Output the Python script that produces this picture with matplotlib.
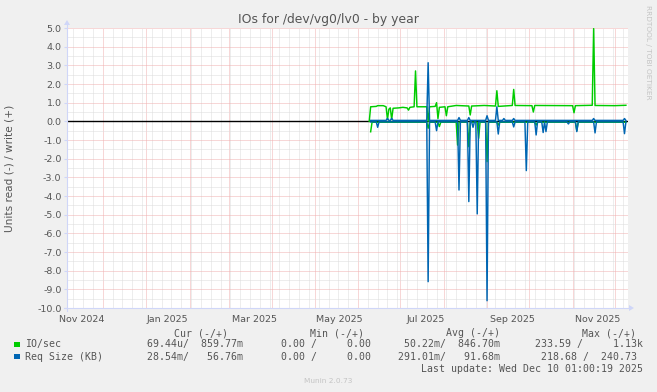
import numpy as np
import matplotlib
matplotlib.use("Agg")
import matplotlib.pyplot as plt
import matplotlib.dates as mdates
from matplotlib.lines import Line2D
from matplotlib.patches import Polygon
from matplotlib.ticker import MultipleLocator, FormatStrFormatter, NullFormatter
import matplotlib.transforms as mtransforms

# ---------------- data ----------------
# IO/sec, write (+)
io_write_dates = ["2025-06-09", "2025-06-10", "2025-06-14", "2025-06-15", "2025-06-19", "2025-06-21",
                  "2025-06-22", "2025-06-23", "2025-06-24", "2025-06-25", "2025-06-26", "2025-06-30",
                  "2025-07-03", "2025-07-06", "2025-07-07", "2025-07-08", "2025-07-11", "2025-07-12",
                  "2025-07-13", "2025-07-20", "2025-07-21", "2025-07-22", "2025-07-26", "2025-07-27",
                  "2025-07-28", "2025-07-29", "2025-08-02", "2025-08-03", "2025-08-04", "2025-08-10",
                  "2025-08-19", "2025-08-20", "2025-08-21", "2025-08-30", "2025-09-07", "2025-09-08",
                  "2025-09-09", "2025-09-19", "2025-09-20", "2025-09-21", "2025-10-03", "2025-10-04",
                  "2025-10-05", "2025-11-01", "2025-11-02", "2025-11-03", "2025-11-15", "2025-11-16",
                  "2025-11-17", "2025-12-01", "2025-12-09"]
io_write_vals = [0.0, 0.78, 0.80, 0.84, 0.84, 0.78,
                 0.10, 0.65, 0.72, 0.10, 0.70, 0.72,
                 0.75, 0.72, 0.60, 0.75, 0.78, 2.70,
                 0.78, 0.78, 0.0, 0.78, 0.80, 1.00,
                 0.15, 0.75, 0.78, 0.30, 0.78, 0.85,
                 0.82, 0.34, 0.82, 0.85, 0.82, 1.64,
                 0.80, 0.85, 1.71, 0.85, 0.84, 0.50,
                 0.85, 0.84, 0.46, 0.84, 0.86, 4.97,
                 0.85, 0.84, 0.86]

# IO/sec, read (-)
io_read_dates = ["2025-06-10", "2025-06-11", "2025-07-20", "2025-07-21", "2025-07-22", "2025-07-28",
                 "2025-07-29", "2025-07-30", "2025-08-10", "2025-08-11", "2025-08-12", "2025-08-18",
                 "2025-08-19", "2025-08-20", "2025-08-25", "2025-08-26", "2025-08-27", "2025-08-31",
                 "2025-09-01", "2025-09-02", "2025-09-08", "2025-09-09", "2025-09-10", "2025-10-05",
                 "2025-10-06", "2025-10-07", "2025-11-03", "2025-11-04", "2025-11-05", "2025-12-09"]
io_read_vals = [-0.56, -0.05, -0.05, -0.37, -0.05, -0.05,
                -0.28, -0.05, -0.05, -1.27, -0.05, -0.05,
                -1.36, -0.05, -0.05, -0.91, -0.05, -0.05,
                -2.16, -0.05, -0.05, -0.20, -0.05, -0.05,
                -0.20, -0.05, -0.05, -0.50, -0.05, -0.05]

# Req Size (KB), write (+)
req_write_dates = ["2025-06-10", "2025-06-21", "2025-06-22", "2025-06-23", "2025-06-24", "2025-06-25",
                   "2025-06-26", "2025-07-20", "2025-07-21", "2025-07-22", "2025-08-11", "2025-08-12",
                   "2025-08-13", "2025-08-18", "2025-08-19", "2025-08-20", "2025-08-31", "2025-09-01",
                   "2025-09-02", "2025-09-07", "2025-09-08", "2025-09-09", "2025-09-12", "2025-09-13",
                   "2025-09-14", "2025-09-19", "2025-09-20", "2025-09-21", "2025-11-15", "2025-11-16",
                   "2025-11-17", "2025-12-07", "2025-12-08", "2025-12-09"]
req_write_vals = [0.05, 0.05, 0.16, 0.05, 0.05, 0.16,
                  0.05, 0.05, 3.14, 0.05, 0.05, 0.20,
                  0.05, 0.05, 0.20, 0.05, 0.05, 0.30,
                  0.05, 0.05, 0.78, 0.05, 0.05, 0.15,
                  0.05, 0.05, 0.15, 0.05, 0.05, 0.15,
                  0.05, 0.05, 0.15, 0.05]

# Req Size (KB), read (-)
req_read_dates = ["2025-06-10", "2025-06-14", "2025-06-15", "2025-06-16", "2025-07-20", "2025-07-21",
                  "2025-07-22", "2025-07-26", "2025-07-27", "2025-07-28", "2025-08-11", "2025-08-12",
                  "2025-08-13", "2025-08-18", "2025-08-19", "2025-08-20", "2025-08-21", "2025-08-22",
                  "2025-08-23", "2025-08-24", "2025-08-25", "2025-08-26", "2025-08-31", "2025-09-01",
                  "2025-09-02", "2025-09-08", "2025-09-09", "2025-09-10", "2025-09-19", "2025-09-20",
                  "2025-09-21", "2025-09-28", "2025-09-29", "2025-09-30", "2025-10-05", "2025-10-06",
                  "2025-10-07", "2025-10-10", "2025-10-11", "2025-10-12", "2025-10-13", "2025-10-14",
                  "2025-10-28", "2025-10-29", "2025-10-30", "2025-11-03", "2025-11-04", "2025-11-05",
                  "2025-11-16", "2025-11-17", "2025-11-18", "2025-12-07", "2025-12-08", "2025-12-09"]
req_read_vals = [-0.03, -0.03, -0.32, -0.03, -0.03, -8.59,
                 -0.03, -0.03, -0.50, -0.03, -0.03, -3.68,
                 -0.03, -0.03, -4.30, -0.03, -0.03, -0.32,
                 -0.03, -0.03, -4.96, -0.03, -0.03, -9.61,
                 -0.03, -0.03, -0.68, -0.03, -0.03, -0.30,
                 -0.03, -0.03, -2.64, -0.03, -0.03, -0.73,
                 -0.03, -0.03, -0.60, -0.03, -0.55, -0.03,
                 -0.03, -0.14, -0.03, -0.03, -0.55, -0.03,
                 -0.03, -0.62, -0.03, -0.03, -0.66, -0.03]

x_start, x_end = "2024-11-05T12:00", "2025-12-10T12:00"
x_label_dates = ["2024-11-16", "2025-01-16", "2025-03-19", "2025-05-19", "2025-07-19", "2025-09-19", "2025-11-19"]
x_labels = ["Nov 2024", "Jan 2025", "Mar 2025", "May 2025", "Jul 2025", "Sep 2025", "Nov 2025"]
y_min, y_max = -10.0, 5.0

series_names = ["IO/sec", "Req Size (KB)"]
series_colors = ["#00CC00", "#0066B3"]
stat_headers = ["Cur (-/+)", "Min (-/+)", "Avg (-/+)", "Max (-/+)"]
stat_rows = [["69.44u/  859.77m", "0.00 /     0.00", "50.22m/  846.70m", "233.59 /     1.13k"],
             ["28.54m/   56.76m", "0.00 /     0.00", "291.01m/   91.68m", "218.68 /  240.73"]]

title = "IOs for /dev/vg0/lv0 - by year"
ylabel = "Units read (-) / write (+)"
last_update = "Last update: Wed Dec 10 01:00:19 2025"

# ---------------- figure ----------------
W, H = 657, 392
fig = plt.figure(figsize=(W / 100, H / 100), dpi=100, facecolor="#F0F0F0")
L, R, T, B = 67, 628, 28, 308
ax = fig.add_axes([L / W, 1 - B / H, (R - L) / W, (B - T) / H])
ax.set_facecolor("white")
for s in ax.spines.values():
    s.set_visible(False)

def d(lst):
    return np.array(lst, dtype="datetime64[m]").astype("datetime64[ms]").astype(object)

ax.set_xlim(mdates.date2num(np.datetime64(x_start)), mdates.date2num(np.datetime64(x_end)))
ax.set_ylim(y_min, y_max)

grid_minor = "#dcdcdc"
grid_major = "#f0b0b0"
dot = (0, (1, 1))
ax.xaxis.set_major_locator(mdates.MonthLocator())
ax.xaxis.set_minor_locator(mdates.WeekdayLocator(byweekday=mdates.SU))
ax.xaxis.set_major_formatter(NullFormatter())
ax.xaxis.set_minor_formatter(NullFormatter())
ax.yaxis.set_major_locator(MultipleLocator(1.0))
ax.yaxis.set_minor_locator(MultipleLocator(0.5))
ax.yaxis.set_major_formatter(FormatStrFormatter("%.1f"))
ax.grid(which="minor", color=grid_minor, linestyle=dot, linewidth=0.72)
ax.grid(which="major", color=grid_major, linestyle=dot, linewidth=0.72)
ax.set_axisbelow(True)
ax.tick_params(axis="x", which="both", length=0)
ax.tick_params(axis="y", which="minor", length=0)
ax.tick_params(axis="y", which="major", length=2, width=0.8, color="#CFD6F8",
               labelsize=6.8, labelcolor="#555555", pad=2)

txt = "#555555"
ax.axhline(0, color="black", linewidth=1.0, zorder=2)

lw = 1.05
ax.plot(d(io_read_dates), io_read_vals, color=series_colors[0], lw=lw, zorder=3)
ax.plot(d(io_write_dates), io_write_vals, color=series_colors[0], lw=lw, zorder=3)
ax.plot(d(req_read_dates), req_read_vals, color=series_colors[1], lw=lw, zorder=4)
ax.plot(d(req_write_dates), req_write_vals, color=series_colors[1], lw=lw, zorder=4)

# x labels (centred within months)
trans = mtransforms.blended_transform_factory(ax.transData, ax.transAxes)
for dt, lab in zip(x_label_dates, x_labels):
    ax.text(mdates.date2num(np.datetime64(dt)), -11.5 / (B - T), lab, transform=trans,
            ha="center", va="center", fontsize=6.8, color=txt)

# axes lines with arrows
axis_col = "#CFD6F8"
fx = lambda px: px / W
fy = lambda py: 1 - py / H
fig.add_artist(Line2D([fx(L - 3), fx(630)], [fy(B), fy(B)], color=axis_col, lw=0.8))
fig.add_artist(Line2D([fx(L), fx(L)], [fy(B + 3), fy(24)], color=axis_col, lw=0.8))
fig.add_artist(Polygon([[fx(629), fy(B - 3)], [fx(634), fy(B)], [fx(629), fy(B + 3)]],
                       closed=True, color=axis_col, lw=0))
fig.add_artist(Polygon([[fx(L - 3), fy(25)], [fx(L), fy(20)], [fx(L + 3), fy(25)]],
                       closed=True, color=axis_col, lw=0))

# title & labels
fig.text(fx(328), fy(19), title, ha="center", va="center", fontsize=8.9, color="#555555")
fig.text(fx(10), fy(168), ylabel, ha="center", va="center", rotation=90, fontsize=7.6, color=txt)
fig.text(fx(648), fy(5), "RRDTOOL / TOBI OETIKER", ha="center", va="top", rotation=270,
         fontsize=5.3, color="#c4c4c4")

# legend
mono = "DejaVu Sans Mono"
fs = 7.1
header_right = [227.5, 364.5, 500.5, 636.5]
for xr, h in zip(header_right, stat_headers):
    fig.text(fx(xr), fy(333), h, ha="right", va="center", family=mono, fontsize=fs, color=txt)
row_y = [344.5, 356.7]
col_right = [[243, 371, 500.5, 643], [243, 371, 500.5, 637]]
for i, (name, col) in enumerate(zip(series_names, series_colors)):
    fig.add_artist(Polygon([[fx(14), fy(row_y[i] - 3)], [fx(19.5), fy(row_y[i] - 3)],
                            [fx(19.5), fy(row_y[i] + 2.5)], [fx(14), fy(row_y[i] + 2.5)]],
                           closed=True, color=col, lw=0))
    fig.text(fx(25), fy(row_y[i]), name, ha="left", va="center", family=mono, fontsize=fs, color=txt)
    for xr, s in zip(col_right[i], stat_rows[i]):
        fig.text(fx(xr), fy(row_y[i]), s, ha="right", va="center", family=mono, fontsize=fs, color=txt)
fig.text(fx(643), fy(369), last_update, ha="right", va="center", family=mono, fontsize=fs, color=txt)
fig.text(fx(328), fy(381), "Munin 2.0.73", ha="center", va="center", fontsize=5.3, color="#c4c4c4")

fig.savefig("out.png", dpi=100, facecolor=fig.get_facecolor())
